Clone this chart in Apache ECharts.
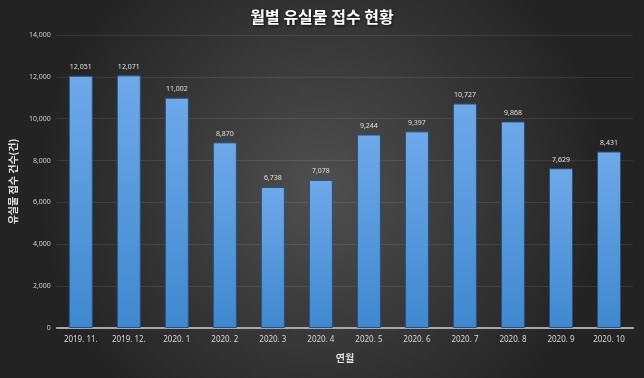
<!DOCTYPE html>
<html>
<head>
<meta charset="utf-8">
<script src="https://cdn.jsdelivr.net/npm/echarts@6/dist/echarts.min.js"></script>
<style>
  html, body { margin: 0; padding: 0; background: #2a2a2a; }
  #main { width: 644px; height: 378px; }
</style>
</head>
<body>
<div id="main"></div>
<script>
// 월별 카테고리
var months = ['2019. 11.', '2019. 12.', '2020. 1', '2020. 2', '2020. 3', '2020. 4',
              '2020. 5', '2020. 6', '2020. 7', '2020. 8', '2020. 9', '2020. 10'];
// 유실물 접수 건수
var counts = [12051, 12071, 11002, 8870, 6738, 7078, 9244, 9397, 10727, 9868, 7629, 8431];

var chart = echarts.init(document.getElementById('main'));

var option = {
    backgroundColor: {
        type: 'radial', x: 0.5, y: 0.5, r: 0.75,
        colorStops: [
            {offset: 0, color: '#4f4f4f'},
            {offset: 1, color: '#232323'}
        ]
    },
    title: {
        text: '월별 유실물 접수 현황',
        left: 'center',
        top: 4,
        textStyle: {
            color: '#ffffff',
            fontSize: 16,
            fontWeight: 'bold',
            fontFamily: 'Noto Sans CJK KR',
            textShadowColor: 'rgba(0,0,0,0.8)',
            textShadowBlur: 3,
            textShadowOffsetX: 1,
            textShadowOffsetY: 1
        }
    },
    grid: { left: 48, right: 11, top: 35, bottom: 50 },
    xAxis: {
        type: 'category',
        data: months,
        name: '연월',
        nameLocation: 'middle',
        nameGap: 25,
        nameTextStyle: { color: '#e0e0e0', fontSize: 10, fontWeight: 'bold', fontFamily: 'Noto Sans CJK KR' },
        axisLine: { lineStyle: { color: '#a8a8a8', width: 2 } },
        axisTick: { show: false },
        axisLabel: { color: '#d8d8d8', fontSize: 8, margin: 8, fontFamily: 'Noto Sans' }
    },
    yAxis: {
        type: 'value',
        min: 0,
        max: 14000,
        interval: 2000,
        name: '유실물 접수 건수(건)',
        nameLocation: 'middle',
        nameGap: 27,
        nameRotate: 90,
        nameTextStyle: { color: '#e0e0e0', fontSize: 10, fontWeight: 'bold', fontFamily: 'Noto Sans CJK KR' },
        axisLine: { show: false },
        axisTick: { show: false },
        splitLine: { lineStyle: { color: 'rgba(255,255,255,0.09)', width: 1 } },
        axisLabel: {
            color: '#d0d0d0', fontSize: 7, margin: 6, fontFamily: 'Noto Sans',
            formatter: function (v) { return v.toLocaleString('en-US'); }
        }
    },
    series: [{
        type: 'bar',
        data: counts,
        barWidth: '50%',
        itemStyle: {
            color: {
                type: 'linear', x: 0, y: 0, x2: 0, y2: 1,
                colorStops: [
                    {offset: 0, color: '#6ea9e8'},
                    {offset: 1, color: '#3f88d1'}
                ]
            },
            borderColor: '#2b4f75',
            borderWidth: 1
        },
        label: {
            show: true,
            position: 'top',
            distance: 5,
            color: '#e0e0e0',
            fontSize: 7,
            fontFamily: 'Noto Sans',
            formatter: function (p) { return p.value.toLocaleString('en-US'); }
        }
    }]
};

chart.setOption(option);
</script>
</body>
</html>
